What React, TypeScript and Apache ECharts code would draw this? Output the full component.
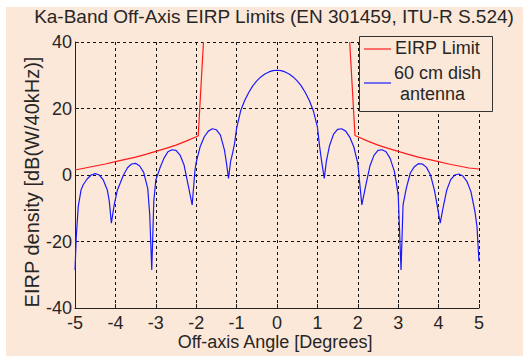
import React, { useEffect, useRef } from "react";
import * as echarts from "echarts";

const titleText = "Ka-Band Off-Axis EIRP Limits (EN 301459, ITU-R S.524)";
const xAxisTitle = "Off-axis Angle [Degrees]";
const yAxisTitle = "EIRP density [dB(W/40kHz)]";
const legendNames = ["EIRP Limit", "60 cm dish", "antenna"];

const xTicks = [-5, 5, 1];
const yTicks = [-40, 40, 20];

// EIRP limit mask (left branch, break, right branch)
const limitAngles = [-5, -4.75, -4.5, -4.25, -4, -3.75, -3.5, -3.25, -3, -2.75, -2.5, -2.25, -2, -1.95, -1.82, 0,
  1.8, 1.93, 2, 2.25, 2.5, 2.75, 3, 3.25, 3.5, 3.75, 4, 4.25, 4.5, 4.75, 5];
const limitValues: (number | string)[] = [1.5, 2.1, 2.7, 3.3, 4.0, 4.7, 5.4, 6.2, 7.1, 8.0, 9.0, 10.2, 11.5, 11.8, 40, "-",
  40, 11.9, 11.5, 10.2, 9.0, 8.0, 7.1, 6.2, 5.4, 4.7, 4.0, 3.3, 2.7, 2.1, 1.8];

// 60 cm dish antenna EIRP density pattern
const dishAngles = [
  -5.0, -4.97, -4.92, -4.85, -4.8, -4.7, -4.6, -4.5, -4.4, -4.3, -4.2, -4.15, -4.1, -4.03, -3.95, -3.9,
  -3.8, -3.7, -3.6, -3.5, -3.4, -3.3, -3.2, -3.15, -3.1, -3.05, -3.0, -2.9, -2.8, -2.7, -2.6, -2.5,
  -2.4, -2.3, -2.2, -2.1, -2.03, -2.0, -1.9, -1.8, -1.7, -1.6, -1.5, -1.4, -1.3, -1.25, -1.2, -1.15,
  -1.1, -1.05, -1.0, -0.9, -0.8, -0.7, -0.6, -0.5, -0.4, -0.3, -0.2, -0.1, 0,
  0.1, 0.2, 0.3, 0.4, 0.5, 0.6, 0.7, 0.8, 0.9, 1.0, 1.05, 1.1, 1.17, 1.22, 1.3, 1.4, 1.5, 1.6, 1.7,
  1.8, 1.9, 2.0, 2.1, 2.2, 2.3, 2.4, 2.5, 2.6, 2.7, 2.8, 2.9, 2.95, 3.0, 3.07, 3.12, 3.2, 3.3, 3.4,
  3.5, 3.6, 3.7, 3.8, 3.9, 3.97, 4.04, 4.1, 4.2, 4.3, 4.4, 4.5, 4.6, 4.7, 4.8, 4.9, 4.95, 5.0,
];
const dishValues = [
  -28.6, -19.0, -9.5, -4.5, -3.0, -1.2, 0.0, 0.4, 0.0, -1.5, -4.5, -8.0, -14.5, -9.0, -4.5, -3.0,
  0.0, 2.2, 3.3, 3.5, 2.7, 0.8, -4.0, -12.0, -28.6, -8.0, -1.5, 2.0, 5.0, 7.0, 7.6, 7.4,
  6.0, 3.0, -3.0, -9.0, 1.5, 3.8, 8.6, 11.5, 13.2, 13.9, 13.6, 12.0, 7.5, 3.5, -1.0, 4.0,
  6.5, 9.5, 14.0, 19.3, 22.4, 24.8, 26.8, 28.3, 29.5, 30.4, 31.0, 31.4, 31.5,
  31.4, 31.0, 30.4, 29.5, 28.3, 26.8, 24.8, 22.4, 19.3, 14.5, 9.0, 4.5, -1.0, 4.0, 8.8, 12.3, 13.7, 13.9, 13.2,
  11.4, 8.5, 3.5, -9.0, -3.0, 2.7, 5.9, 7.4, 7.6, 7.0, 5.0, 1.3, -2.0, -6.0, -28.6, -9.0, -4.0, 0.6, 2.5,
  3.4, 3.3, 2.3, 0.0, -4.8, -9.5, -14.5, -10.5, -4.6, -1.4, 0.0, 0.3, -0.3, -1.9, -5.0, -11.0, -15.5, -26.0,
];

const BG = "#FCE8D9";
const FONT = "Liberation Sans, Arial, sans-serif";
const TXT = "#262626";

export default function App() {
  const ref = useRef<HTMLDivElement>(null);
  useEffect(() => {
    if (!ref.current) return;
    const chart = echarts.init(ref.current, undefined, { renderer: "svg" });
    const plotL = 75, plotR = 479, plotT = 42, plotB = 308;
    const W = 523, H = 356;
    const limitData = limitAngles.map((a, i) => [a, limitValues[i]]);
    const dishData = dishAngles.map((a, i) => [a, dishValues[i]]);
    const lgX = 359, lgY = 36, lgW = 133, lgH = 75;
    chart.setOption({
      animation: false,
      backgroundColor: BG,
      textStyle: { fontFamily: FONT },
      grid: { left: plotL, right: W - plotR, top: plotT, bottom: H - plotB, containLabel: false },
      xAxis: {
        type: "value",
        min: xTicks[0],
        max: xTicks[1],
        interval: xTicks[2],
        axisLine: { show: true, onZero: false, lineStyle: { color: "#222", width: 1 } },
        axisTick: { show: true, inside: true, length: 4, lineStyle: { color: "#222" } },
        axisLabel: { color: TXT, fontSize: 18, fontFamily: FONT, margin: 6 },
        splitLine: { show: true, lineStyle: { color: "#111", type: [3, 3], width: 1 } },
      },
      yAxis: {
        type: "value",
        min: yTicks[0],
        max: yTicks[1],
        interval: yTicks[2],
        axisLine: { show: true, onZero: false, lineStyle: { color: "#222", width: 1 } },
        axisTick: { show: true, inside: true, length: 4, lineStyle: { color: "#222" } },
        axisLabel: { color: TXT, fontSize: 18, fontFamily: FONT, margin: 3 },
        splitLine: { show: true, lineStyle: { color: "#111", type: [3, 3], width: 1 } },
      },
      series: [
        {
          name: legendNames[0],
          type: "line",
          data: limitData,
          showSymbol: false,
          connectNulls: false,
          lineStyle: { color: "#FF1A1A", width: 1.2 },
          z: 3,
        },
        {
          name: legendNames[1],
          type: "line",
          data: dishData,
          showSymbol: false,
          lineStyle: { color: "#1A1AFF", width: 1.2 },
          z: 4,
        },
      ],
      graphic: [
        { type: "rect", z: 0, shape: { x: 0, y: 0, width: W, height: 7 }, style: { fill: "#fff" } },
        { type: "rect", z: 0, shape: { x: 0, y: 0, width: 6, height: H }, style: { fill: "#fff" } },
        {
          type: "text", z: 10, x: 274, y: 16,
          style: { text: titleText, fill: TXT, font: `19px ${FONT}`, align: "center", verticalAlign: "middle" },
        },
        {
          type: "text", z: 10, x: 275, y: 342,
          style: { text: xAxisTitle, fill: TXT, font: `18px ${FONT}`, align: "center", verticalAlign: "middle" },
        },
        {
          type: "text", z: 10, x: 32, y: 182, rotation: Math.PI / 2,
          style: { text: yAxisTitle, fill: TXT, font: `20px ${FONT}`, align: "center", verticalAlign: "middle" },
        },
        {
          type: "rect", z: 20, shape: { x: lgX + 0.5, y: lgY + 0.5, width: lgW, height: lgH },
          style: { fill: BG, stroke: "#333", lineWidth: 1 },
        },
        {
          type: "line", z: 21, shape: { x1: 364, y1: 49, x2: 391, y2: 49 },
          style: { stroke: "#FF1A1A", lineWidth: 1.2 },
        },
        {
          type: "text", z: 21, x: 395, y: 48,
          style: { text: legendNames[0], fill: TXT, font: `18px ${FONT}`, align: "left", verticalAlign: "middle" },
        },
        {
          type: "line", z: 21, shape: { x1: 364, y1: 83, x2: 391, y2: 83 },
          style: { stroke: "#1A1AFF", lineWidth: 1.2 },
        },
        {
          type: "text", z: 21, x: 394, y: 73,
          style: { text: legendNames[1], fill: TXT, font: `18px ${FONT}`, align: "left", verticalAlign: "middle" },
        },
        {
          type: "text", z: 21, x: 400, y: 94,
          style: { text: legendNames[2], fill: TXT, font: `18px ${FONT}`, align: "left", verticalAlign: "middle" },
        },
      ],
    });
    return () => chart.dispose();
  }, []);
  return (
    <div style={{ position: "fixed", left: 0, top: 0, width: 523, height: 356 }}>
      <div ref={ref} style={{ width: 523, height: 356 }} />
    </div>
  );
}
